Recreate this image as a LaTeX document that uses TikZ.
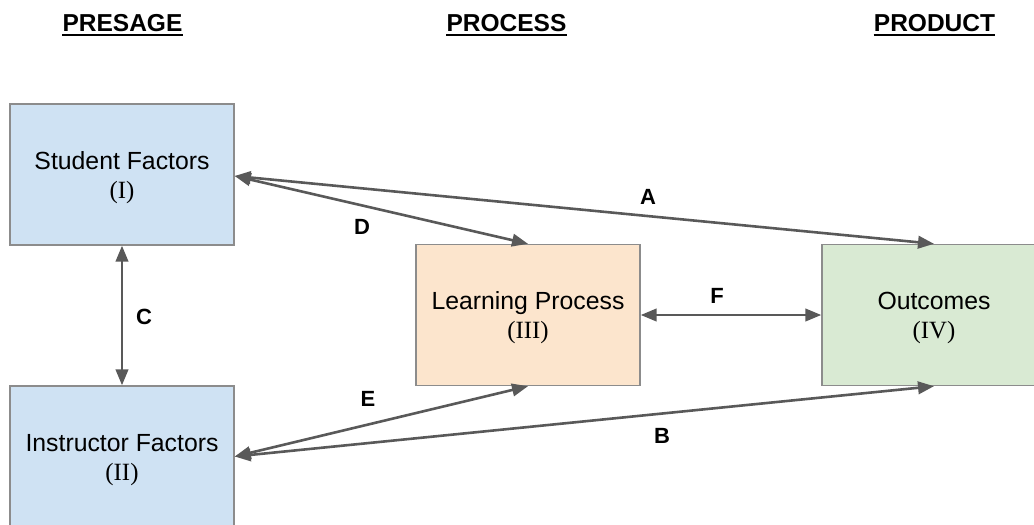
\documentclass[tikz,border=0pt]{standalone}
\usepackage{fontspec}
\setmainfont{Liberation Sans}
\newfontfamily\romanfont{Liberation Serif}
\usetikzlibrary{arrows.meta}
\definecolor{linegray}{HTML}{595959}
\definecolor{edgegray}{HTML}{8C8C8C}
\definecolor{presageblue}{HTML}{CFE2F3}
\definecolor{processorange}{HTML}{FCE5CD}
\definecolor{productgreen}{HTML}{D9EAD3}
% two-line stage caption, set slightly below the box centre
\newcommand\stagetext[2]{\raisebox{-3pt}[\height][\depth]{\begin{tabular}{@{}c@{}}#1\\[-1pt]{\romanfont #2}\end{tabular}}}
\tikzset{
  stage/.style={draw=edgegray, line width=1.4pt, minimum width=224pt, minimum height=141pt,
    inner sep=0pt, align=center, font=\fontsize{24.8}{30}\selectfont},
  link/.style={draw=linegray, line width=2.6pt,
    {Triangle[length=16pt,width=12.5pt]}-{Triangle[length=16pt,width=12.5pt]}},
  tag/.style={font=\fontsize{22}{24}\selectfont\bfseries, inner sep=0pt},
  header/.style={font=\fontsize{24.5}{26}\selectfont\bfseries, inner sep=0pt, anchor=base}
}
\begin{document}
\begin{tikzpicture}[x=1pt, y=-1pt]
  \useasboundingbox (0,0) rectangle (1034,525);

  % column headers
  \node[header] (hpre)  at (122.5,31) {PRESAGE};
  \node[header] (hproc) at (506.5,31) {PROCESS};
  \node[header] (hprod) at (934.5,31) {PRODUCT};
  \foreach \h in {hpre,hproc,hprod}
    \draw[line width=2pt] ([yshift=-3.5pt]\h.base west) -- ([yshift=-3.5pt]\h.base east);

  % stages
  \node[stage, fill=presageblue]   (stud)  at (122,174.5) {\stagetext{Student Factors}{(I)}};
  \node[stage, fill=presageblue]   (inst)  at (122,456.5) {\stagetext{Instructor Factors}{(II)}};
  \node[stage, fill=processorange] (learn) at (528,315)   {\stagetext{Learning Process}{(III)}};
  \node[stage, fill=productgreen]  (out)   at (934,315)   {\stagetext{Outcomes}{(IV)}};

  % relations
  \draw[link] ([yshift=-1.5pt]stud.east) -- (out.north);
  \draw[link] ([yshift=-1.5pt]stud.east) -- (learn.north);
  \draw[link] (stud.south) -- (inst.north);
  \draw[link] (inst.east) -- (learn.south);
  \draw[link] (inst.east) -- (out.south);
  \draw[link] (learn.east) -- (out.west);

  % relation labels
  \node[tag] (la) at (648,197) {A};
  \node[tag] (lb) at (662,436) {B};
  \node[tag] (lc) at (144,317) {C};
  \node[tag] (ld) at (362,227) {D};
  \node[tag] (le) at (368,399) {E};
  \node[tag] (lf) at (717,296) {F};
\end{tikzpicture}
\end{document}
